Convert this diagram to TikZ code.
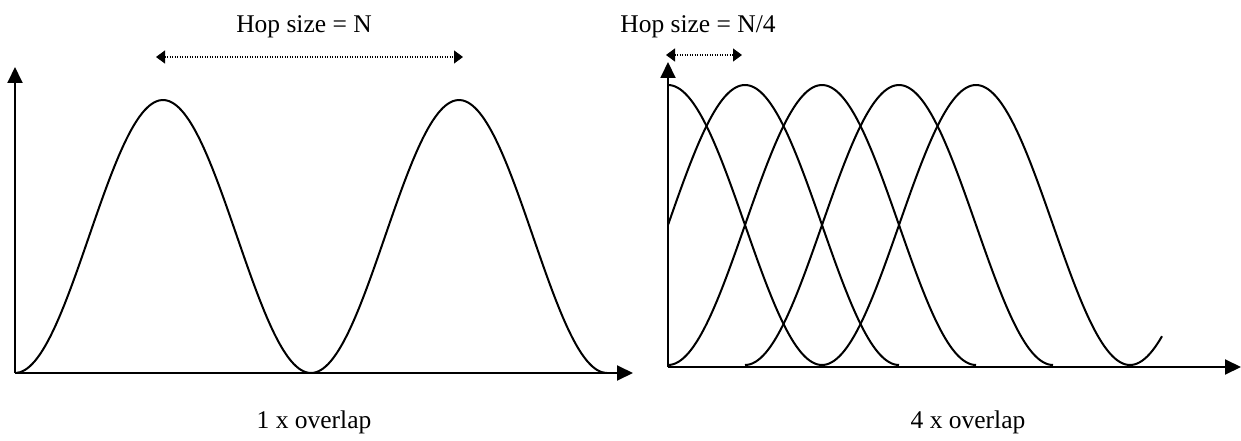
\documentclass[tikz,border=0pt]{standalone}
\usepackage{fontspec}
\setmainfont{Liberation Serif}
\usetikzlibrary{arrows.meta}
\begin{document}
\begin{tikzpicture}[x=1pt,y=-1pt,
  axis/.style={line width=1.9pt,-{Triangle[length=16pt,width=15pt]}},
  hop/.style={line width=1.1pt,dash pattern=on 1.1pt off 1.4pt,{Triangle[length=9pt,width=13pt]}-{Triangle[length=9pt,width=13pt]}},
  wave/.style={line width=2pt,smooth,samples=120},
  lbl/.style={font=\fontsize{25.5}{30}\selectfont,anchor=base,inner sep=0pt}]
\useasboundingbox (0,0) rectangle (1241,441);
% left panel
\coordinate (lo) at (15,373);
\coordinate (ly) at (15,67);
\coordinate (lx) at (633,373);
\draw[axis] (lo) -- (ly);
\draw[axis] (lo) -- (lx);
\draw[wave] plot[domain=15:607] (\x,{373-136.5*(1-cos((\x-15)/296*360))});
\coordinate (hl1) at (156,57);
\coordinate (hl2) at (463,57);
\draw[hop] (hl1) -- (hl2);
\node[lbl] (tl) at (304,33) {Hop size = N};
\node[lbl] (bl) at (314,428) {1 x overlap};
% right panel
\coordinate (ro) at (668,367);
\coordinate (ry) at (668,62);
\coordinate (rx) at (1241,367);
\draw[axis] (ro) -- (ry);
\draw[axis] (ro) -- (rx);
\draw[wave] plot[domain=668:1162,samples=200] (\x,{365-140*(1+cos((\x-668)/308*360))});
\draw[wave] plot[domain=668:899] (\x,{365-140*(1+cos((\x-745)/308*360))});
\draw[wave] plot[domain=668:976] (\x,{365-140*(1-cos((\x-668)/308*360))});
\draw[wave] plot[domain=745:1053] (\x,{365-140*(1-cos((\x-745)/308*360))});
\coordinate (hr1) at (666,55);
\coordinate (hr2) at (742,55);
\draw[hop] (hr1) -- (hr2);
\node[lbl] (tr) at (698,33) {Hop size = N/4};
\node[lbl] (br) at (968,428) {4 x overlap};
\end{tikzpicture}
\end{document}
